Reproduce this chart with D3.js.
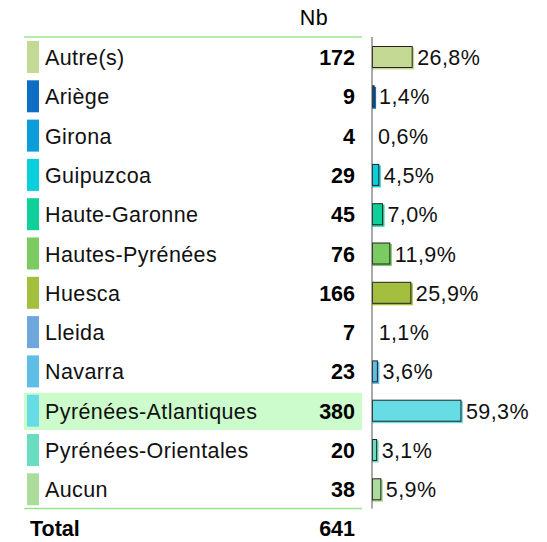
<!DOCTYPE html>
<html>
<head>
<meta charset="utf-8">
<script src="https://cdn.jsdelivr.net/npm/d3@7"></script>
<style>
  body { margin: 0; background: #fff; }
  text { font-family: "Liberation Sans", Arial, sans-serif; }
</style>
</head>
<body>
<div id="chart"></div>
<script>
// data
const categories = ["Autre(s)", "Ariège", "Girona", "Guipuzcoa", "Haute-Garonne", "Hautes-Pyrénées",
  "Huesca", "Lleida", "Navarra", "Pyrénées-Atlantiques", "Pyrénées-Orientales", "Aucun"];
const counts = [172, 9, 4, 29, 45, 76, 166, 7, 23, 380, 20, 38];
const percents = [26.8, 1.4, 0.6, 4.5, 7.0, 11.9, 25.9, 1.1, 3.6, 59.3, 3.1, 5.9];
const colors = ["#c4d994", "#0d6ec4", "#0a9dd9", "#0acfdc", "#10d09a", "#7bcb62",
  "#a4bf3d", "#6ea7dc", "#5fbee6", "#66dde4", "#6adcc0", "#acdc9c"];
const highlighted = "Pyrénées-Atlantiques";
const totalLabel = "Total";
const total = 641;
const header = "Nb";

const WIDTH = 547;
const HEIGHT = 542;
const TOP = 37;
const ROW_H = 39.3;
const AXIS_X = 372;
const FONT = 21.5;

const svg = d3.select("#chart").append("svg")
  .attr("width", WIDTH)
  .attr("height", HEIGHT);

const y = d3.scaleBand()
  .domain(categories)
  .range([TOP, TOP + ROW_H * categories.length]);

const x = d3.scaleLinear()
  .domain([0, 100])
  .range([AXIS_X, AXIS_X + 150]);

const fmt = (v) => d3.format(".1f")(v).replace(".", ",") + "%";

// highlighted row background
svg.append("rect")
  .attr("x", 24)
  .attr("y", y(highlighted) + 2)
  .attr("width", 338)
  .attr("height", ROW_H - 2)
  .attr("fill", "#ccfccc");

// header
svg.append("text")
  .attr("x", 314).attr("y", 25)
  .attr("text-anchor", "middle")
  .attr("font-size", FONT)
  .attr("letter-spacing", 0.4)
  .text(header);

// horizontal rules
[TOP, TOP + ROW_H * categories.length].forEach((yy) => {
  svg.append("line")
    .attr("x1", 24).attr("x2", 362)
    .attr("y1", yy).attr("y2", yy)
    .attr("stroke", "#99e68a")
    .attr("stroke-width", 1.5);
});

const rows = svg.selectAll("g.row")
  .data(categories)
  .enter()
  .append("g")
  .attr("class", "row")
  .attr("transform", (d) => `translate(0, ${y(d)})`);

// color swatch
rows.append("rect")
  .attr("x", 27)
  .attr("y", 4)
  .attr("width", 12)
  .attr("height", 32)
  .attr("fill", (d, i) => colors[i]);

// label
rows.append("text")
  .attr("x", 45)
  .attr("y", 28)
  .attr("font-size", FONT)
  .attr("letter-spacing", 0.4)
  .attr("fill", "#111")
  .text((d) => d);

// count
rows.append("text")
  .attr("x", 355)
  .attr("y", 28)
  .attr("text-anchor", "end")
  .attr("font-size", FONT)
  .attr("font-weight", "bold")
  .text((d, i) => counts[i]);

// bars: colored shadow then outlined bar (very small ones are not drawn)
const drawn = categories.filter((d, i) => percents[i] >= 1.2);

rows.filter((d) => drawn.includes(d))
  .append("rect")
  .attr("x", x(0))
  .attr("y", 10.5)
  .attr("width", (d) => x(percents[categories.indexOf(d)]) - x(0) + 2)
  .attr("height", 22)
  .attr("fill", (d) => colors[categories.indexOf(d)]);

rows.filter((d) => drawn.includes(d))
  .append("rect")
  .attr("x", x(0) + 0.5)
  .attr("y", 9.5)
  .attr("width", (d) => Math.max(0.5, x(percents[categories.indexOf(d)]) - x(0) - 0.5))
  .attr("height", 21)
  .attr("fill", (d) => colors[categories.indexOf(d)])
  .attr("stroke", "#222")
  .attr("stroke-width", 1);

// percentage
rows.append("text")
  .attr("x", (d, i) => x(percents[i]) + 5)
  .attr("y", 28)
  .attr("font-size", FONT)
  .attr("letter-spacing", 0.4)
  .attr("fill", "#111")
  .text((d, i) => fmt(percents[i]));

// vertical axis line
svg.append("line")
  .attr("x1", AXIS_X).attr("x2", AXIS_X)
  .attr("y1", TOP).attr("y2", TOP + ROW_H * categories.length)
  .attr("stroke", "#555")
  .attr("stroke-width", 1);

// total row
const totalY = TOP + ROW_H * categories.length + 27;
svg.append("text")
  .attr("x", 30).attr("y", totalY)
  .attr("font-size", FONT)
  .attr("font-weight", "bold")
  .text(totalLabel);
svg.append("text")
  .attr("x", 355).attr("y", totalY)
  .attr("text-anchor", "end")
  .attr("font-size", FONT)
  .attr("font-weight", "bold")
  .text(total);
</script>
</body>
</html>
